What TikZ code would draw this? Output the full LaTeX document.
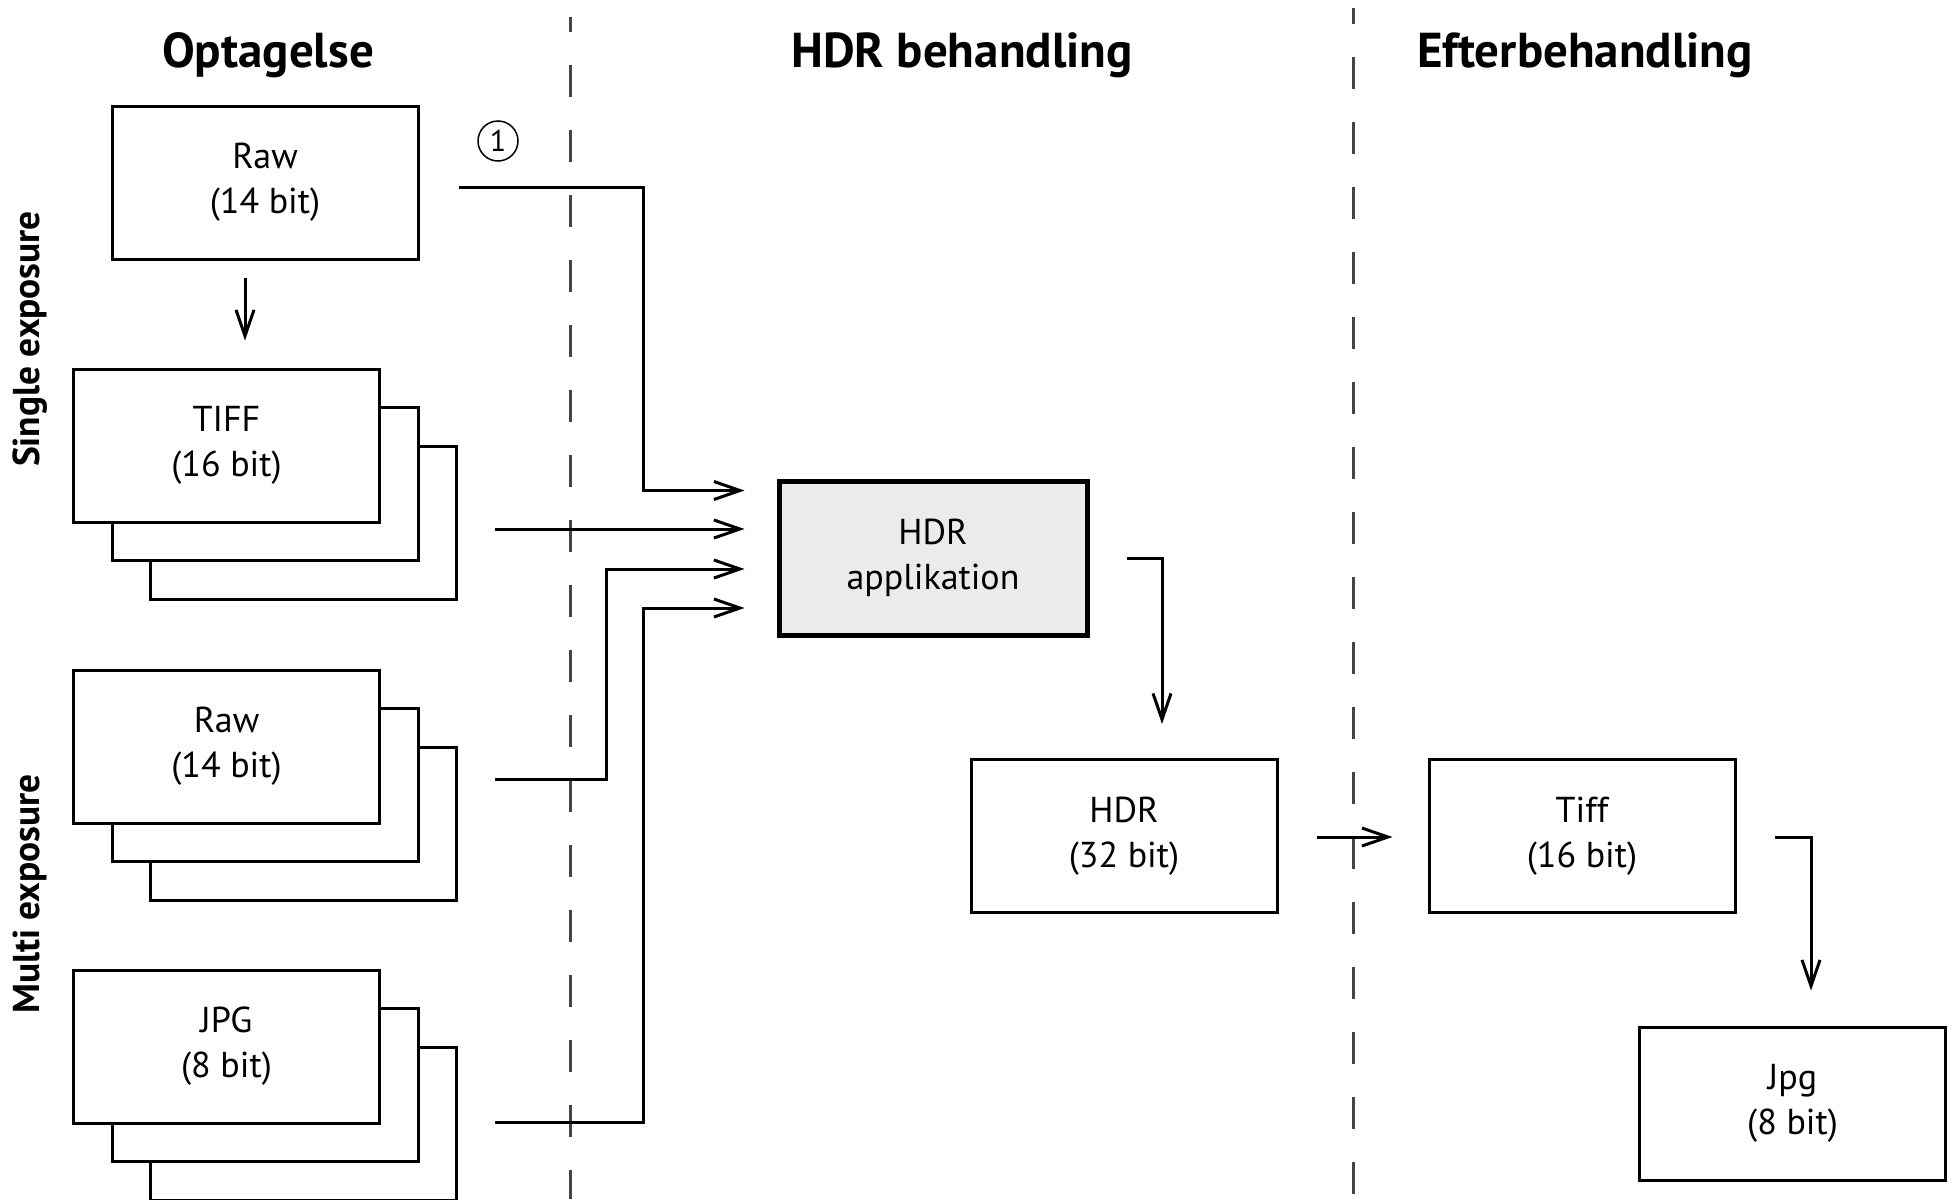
\documentclass[tikz,border=0pt]{standalone}
\usepackage{fontspec}
\setmainfont{PT Sans}
\usetikzlibrary{arrows.meta,calc}
\definecolor{dashgray}{HTML}{444444}
\definecolor{appfill}{HTML}{EBEBEB}

\begin{document}
\begin{tikzpicture}[
    x=0.5pt,y=-0.5pt,
    card/.style={draw,line width=1.5pt,fill=white,minimum width=153pt,minimum height=76.5pt,inner sep=0pt,align=center,font=\fontsize{18}{22.5}\selectfont},
    head/.style={font=\fontsize{24.5}{28}\selectfont\bfseries},
    side/.style={font=\fontsize{18.7}{22}\selectfont\bfseries,rotate=90},
    arr/.style={-{Straight Barb[length=13pt,width=9pt]},line width=1.5pt},
    divider/.style={dashgray,line width=1.5pt,dash pattern=on 16pt off 16.5pt}
]
\useasboundingbox (0,0) rectangle (1952,1199);

% column dividers
\draw[divider,dash phase=8.5pt] (570,17) -- (570,1199);
\draw[divider,dash phase=8pt] (1353,8) -- (1353,1199);

% headings
\node[head] (h1) at (268,55) {Optagelse};
\node[head] (h2) at (962,55) {HDR behandling};
\node[head] (h3) at (1585,55) {Efterbehandling};
\node[side] (single) at (30,339) {Single exposure};
\node[side] (multi) at (30,894) {Multi exposure};

% capture side
\node[card] (raw1) at (265,182.5) {Raw\\(14 bit)};
\node[circle,draw,line width=0.75pt,minimum size=20pt,inner sep=0pt,font=\fontsize{15}{15}\selectfont] (one) at (498,141) {1};

% stacked exposures, back cards first
\foreach \n/\y in {tiff/445.5,rawm/746.5,jpgm/1046.5} {
  \node[card] (\n3) at (303.5,\y+77) {};
  \node[card] (\n2) at (265,\y+38.5) {};
}
\node[card] (tiff) at (226.5,445.5) {TIFF\\(16 bit)};
\node[card] (rawm) at (226.5,746.5) {Raw\\(14 bit)};
\node[card] (jpgm) at (226.5,1046.5) {JPG\\(8 bit)};

% processing and output
\node[card,line width=2.5pt,fill=appfill,minimum width=154pt,minimum height=77pt] (app) at (933,558) {HDR\\applikation};
\node[card] (hdr) at (1124,836) {HDR\\(32 bit)};
\node[card] (tiffo) at (1582,836) {Tiff\\(16 bit)};
\node[card] (jpgo) at (1792.5,1103.5) {Jpg\\(8 bit)};

% inputs of the application
\coordinate (in1) at ($(app.west)+(-32,-67.5)$);
\coordinate (in2) at ($(app.west)+(-32,-29)$);
\coordinate (in3) at ($(app.west)+(-32,11)$);
\coordinate (in4) at ($(app.west)+(-32,50)$);

\draw[arr] ($(raw1.south)+(-20,17)$) -- ($(tiff.north)+(18.5,-27)$);
\draw[arr] ($(raw1.east)+(39,4.5)$) -| ($(in1)+(-101,0)$) -- (in1);
\draw[arr] ($(tiff3.east)+(37,6.5)$) -- (in2);
\draw[arr] ($(rawm3.east)+(37,-44.5)$) -| ($(in3)+(-138,0)$) -- (in3);
\draw[arr] ($(jpgm3.east)+(37,-1.5)$) -| ($(in4)+(-101,0)$) -- (in4);

% towards the final files
\draw[arr] ($(app.east)+(37,0)$) -| ($(hdr.north)+(38,-34)$);
\draw[arr] ($(hdr.east)+(38,1)$) -- ($(tiffo.west)+(-35,1)$);
\draw[arr] ($(tiffo.east)+(38,1)$) -| ($(jpgo.north)+(18.5,-35)$);
\end{tikzpicture}
\end{document}
